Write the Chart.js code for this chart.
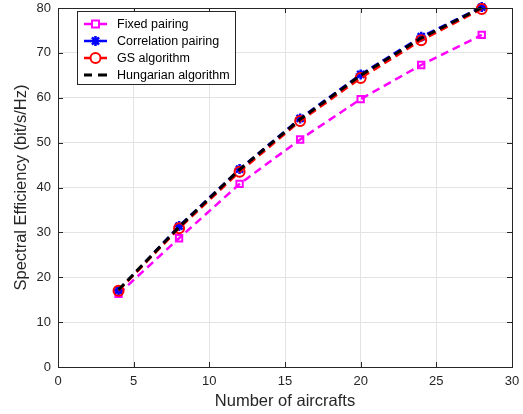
<!DOCTYPE html>
<html>
<head>
<meta charset="utf-8">
<script src="https://cdn.jsdelivr.net/npm/chart.js@4/dist/chart.umd.min.js"></script>
<style>
html,body{margin:0;padding:0;background:#fff;}
#wrap{width:523px;height:414px;position:relative;}
</style>
</head>
<body>
<div id="wrap"><canvas id="c" width="523" height="414"></canvas></div>
<script>
const aircrafts = [4, 8, 12, 16, 20, 24, 28];
const fixedPairing = [16.3, 28.7, 40.8, 50.7, 59.7, 67.3, 74.0];
const correlationPairing = [17.1, 31.4, 44.1, 55.4, 65.2, 73.6, 80.2];
const gsAlgorithm = [17.0, 30.9, 43.5, 54.8, 64.4, 72.8, 79.8];
const hungarianAlgorithm = [17.2, 31.2, 44.0, 55.2, 65.0, 73.3, 80.1];
const xTicks = [0, 5, 10, 15, 20, 25, 30];
const yTicks = [0, 10, 20, 30, 40, 50, 60, 70, 80];
const seriesNames = ['Fixed pairing', 'Correlation pairing', 'GS algorithm', 'Hungarian algorithm'];

const FONT = '"Liberation Sans", Arial, Helvetica, sans-serif';
const AXC = '#262626';

function pts(ys){ return aircrafts.map((x,i)=>({x:x,y:ys[i]})); }

const datasets = [
  {label: seriesNames[0], data: pts(fixedPairing), borderColor:'#ff00ff', backgroundColor:'rgba(0,0,0,0)',
   borderWidth:2.5, borderDash:[8,5], pointStyle:'rect', pointRadius:4.5, pointBorderWidth:2,
   pointBorderColor:'#ff00ff', pointBackgroundColor:'rgba(255,255,255,0)', order:4, clip:false},
  {label: seriesNames[1], data: pts(correlationPairing), borderColor:'#0000ff', backgroundColor:'#0000ff',
   borderWidth:2.5, borderDash:[8,5], pointStyle:'star', pointRadius:5, pointBorderWidth:2.5,
   pointBorderColor:'#0000ff', pointBackgroundColor:'#0000ff', order:3, clip:false},
  {label: seriesNames[2], data: pts(gsAlgorithm), borderColor:'#ff0000', backgroundColor:'rgba(0,0,0,0)',
   borderWidth:2.5, borderDash:[8,5], pointStyle:'circle', pointRadius:5, pointBorderWidth:2,
   pointBorderColor:'#ff0000', pointBackgroundColor:'rgba(255,255,255,0)', order:2, clip:false},
  {label: seriesNames[3], data: pts(hungarianAlgorithm), borderColor:'#000000', backgroundColor:'#000000',
   borderWidth:3, borderDash:[8,5], pointRadius:0, order:1, clip:false}
];

const boxPlugin = {
  id:'box',
  afterDraw(chart){
    const ctx = chart.ctx, a = chart.chartArea;
    const xs = chart.scales.x, ys = chart.scales.y;
    ctx.save();
    ctx.strokeStyle = AXC; ctx.lineWidth = 1;
    ctx.strokeRect(Math.round(a.left)+0.5, Math.round(a.top)+0.5, Math.round(a.right-a.left), Math.round(a.bottom-a.top));
    const L = 5;
    ctx.beginPath();
    xTicks.forEach(v=>{
      const px = Math.round(xs.getPixelForValue(v))+0.5;
      ctx.moveTo(px, a.bottom); ctx.lineTo(px, a.bottom-L);
      ctx.moveTo(px, a.top); ctx.lineTo(px, a.top+L);
    });
    yTicks.forEach(v=>{
      const py = Math.round(ys.getPixelForValue(v))+0.5;
      ctx.moveTo(a.left, py); ctx.lineTo(a.left+L, py);
      ctx.moveTo(a.right, py); ctx.lineTo(a.right-L, py);
    });
    ctx.stroke();
    // legend
    const bx=77.5, by=11.5, bw=158, bh=73;
    ctx.fillStyle='#fff'; ctx.fillRect(bx,by,bw,bh);
    ctx.strokeStyle=AXC; ctx.lineWidth=1; ctx.strokeRect(bx,by,bw,bh);
    const rows=[24,41,58,75];
    chart.data.datasets.forEach((ds,i)=>{
      const y = rows[i];
      ctx.save();
      ctx.strokeStyle = ds.borderColor; ctx.lineWidth = ds.borderWidth;
      ctx.beginPath();
      if(ds.pointRadius>0){
        ctx.moveTo(84,y); ctx.lineTo(91,y); ctx.moveTo(100,y); ctx.lineTo(107,y);
      } else {
        ctx.moveTo(84,y); ctx.lineTo(92,y); ctx.moveTo(98,y); ctx.lineTo(107,y);
      }
      ctx.stroke();
      if(ds.pointRadius>0){
        ctx.fillStyle = ds.pointBackgroundColor; ctx.strokeStyle = ds.pointBorderColor; ctx.lineWidth = ds.pointBorderWidth;
        ctx.beginPath();
        if(ds.pointStyle==='rect'){ ctx.fillStyle='#fff'; ctx.fillRect(95.5-3.5,y-3.5,7,7); ctx.strokeRect(95.5-3.5,y-3.5,7,7);}
        else if(ds.pointStyle==='circle'){ ctx.fillStyle='#fff'; ctx.arc(95.5,y,ds.pointRadius,0,Math.PI*2); ctx.fill(); ctx.stroke();}
        else { Chart.helpers.drawPoint(ctx, {pointStyle:'star', radius: ds.pointRadius, rotation:0, borderWidth: ds.pointBorderWidth}, 95.5, y); }
      }
      ctx.restore();
      ctx.fillStyle='#000'; ctx.font='12.5px '+FONT; ctx.textBaseline='middle'; ctx.textAlign='left';
      ctx.fillText(ds.label, 117, y+0.5);
    });
    ctx.restore();
  }
};

new Chart(document.getElementById('c'), {
  type:'line',
  data:{datasets: datasets},
  options:{
    responsive:false, animation:false, devicePixelRatio:1,
    layout:{padding:{left:12, top:8, right:11, bottom:0}},
    plugins:{legend:{display:false}, tooltip:{enabled:false}},
    scales:{
      x:{type:'linear', min:0, max:30,
        afterBuildTicks(s){ s.ticks = xTicks.map(v=>({value:v})); },
        afterFit(s){ s.height = 47; s.paddingLeft = 0; s.paddingRight = 0; },
        grid:{color:'#e3e3e3', lineWidth:1, drawTicks:false},
        border:{display:false},
        ticks:{color:AXC, font:{family:FONT, size:13}, padding:7, maxRotation:0},
        title:{display:true, text:'Number of aircrafts', color:AXC, font:{family:FONT, size:16.5}, padding:{top:0,bottom:3}}
      },
      y:{type:'linear', min:0, max:80,
        afterBuildTicks(s){ s.ticks = yTicks.map(v=>({value:v})); },
        afterFit(s){ s.width = 46; s.paddingTop = 0; s.paddingBottom = 0; },
        grid:{color:'#e3e3e3', lineWidth:1, drawTicks:false},
        border:{display:false},
        ticks:{color:AXC, font:{family:FONT, size:13}, padding:7},
        title:{display:true, text:'Spectral Efficiency (bit/s/Hz)', color:AXC, font:{family:FONT, size:16.5}, padding:{top:0,bottom:0}}
      }
    }
  },
  plugins:[boxPlugin]
});
</script>
</body>
</html>
